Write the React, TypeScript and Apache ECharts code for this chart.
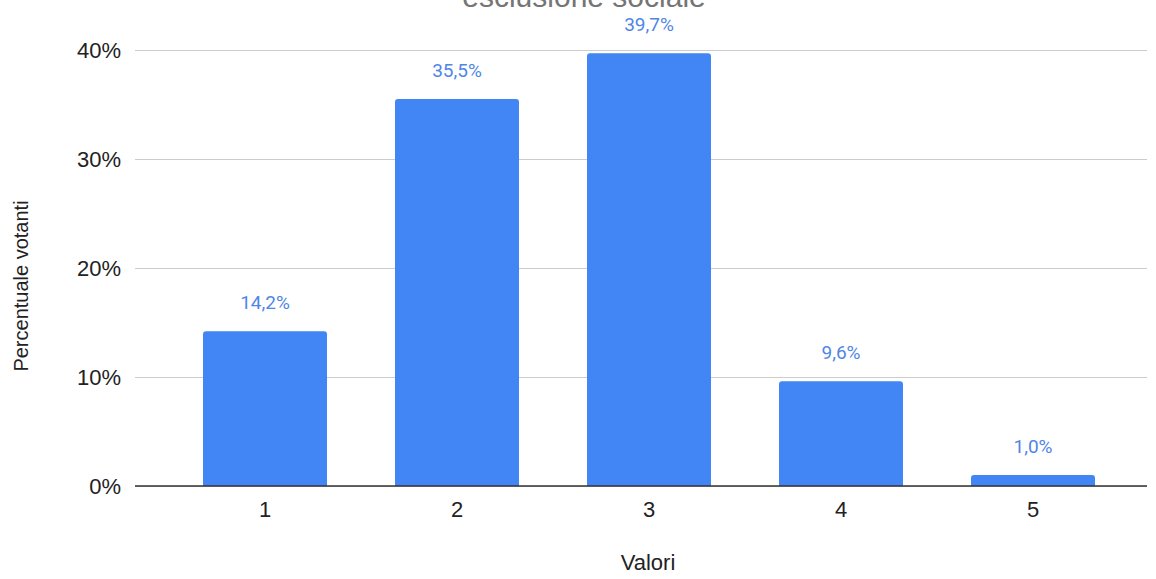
import React, { useEffect, useRef } from "react";
import * as echarts from "echarts";

const categories = ["1", "2", "3", "4", "5"];
const values = [14.2, 35.5, 39.7, 9.6, 1.0];
const yTicks = [0, 10, 20, 30, 40];
const titleText = "esclusione sociale";
const yName = "Percentuale votanti";
const xName = "Valori";

export default function App() {
  const ref = useRef<HTMLDivElement>(null);
  useEffect(() => {
    const chart = echarts.init(ref.current!, null, { renderer: "svg" });
    const font = "'Liberation Sans', Arial, sans-serif";
    const labelFont = "Roboto, Arial, sans-serif";
    chart.setOption({
      animation: false,
      backgroundColor: "#ffffff",
      textStyle: { fontFamily: font },
      grid: [
        { left: 135, right: 9, top: 50, height: 436 },
        { left: 169, right: 27, top: 50, height: 436 },
      ],
      xAxis: [
        {
          gridIndex: 0,
          type: "category",
          data: categories,
          axisLine: { show: false },
          axisTick: { show: false },
          axisLabel: { show: false },
        },
        {
          gridIndex: 1,
          type: "category",
          data: categories,
          axisLine: { show: false },
          axisTick: { show: false },
          axisLabel: { color: "#222222", fontSize: 22, margin: 12, fontFamily: font },
        },
      ],
      yAxis: [
        {
          gridIndex: 0,
          type: "value",
          min: yTicks[0],
          max: yTicks[yTicks.length - 1],
          interval: 10,
          axisLine: { show: false },
          axisTick: { show: false },
          splitLine: {
            lineStyle: { color: "#cccccc", width: 1 },
          },
          axisLabel: {
            color: "#222222",
            fontSize: 22,
            margin: 14,
            fontFamily: font,
            formatter: (v: number) => `${v}%`,
          },
        },
        {
          gridIndex: 1,
          type: "value",
          min: yTicks[0],
          max: yTicks[yTicks.length - 1],
          interval: 10,
          show: false,
          splitLine: { show: false },
        },
      ],
      graphic: [
        {
          type: "text",
          x: 584,
          y: 11,
          style: {
            text: titleText,
            fill: "#757575",
            fontSize: 30,
            fontFamily: font,
            textAlign: "center",
            textVerticalAlign: "bottom",
          },
        },
        {
          type: "line",
          shape: { x1: 135, y1: 486, x2: 1147, y2: 486 },
          style: { stroke: "#333333", lineWidth: 1.5 },
          z: 10,
        },
        {
          type: "text",
          x: 648,
          y: 562,
          style: {
            text: xName,
            fill: "#222222",
            fontSize: 22,
            fontFamily: font,
            textAlign: "center",
            textVerticalAlign: "middle",
          },
        },
        {
          type: "text",
          x: 21,
          y: 286,
          rotation: Math.PI / 2,
          style: {
            text: yName,
            fill: "#222222",
            fontSize: 20,
            fontFamily: font,
            textAlign: "center",
            textVerticalAlign: "middle",
          },
        },
      ],
      series: [
        {
          type: "bar",
          xAxisIndex: 1,
          yAxisIndex: 1,
          data: values,
          barWidth: 124,
          itemStyle: { color: "#4285f4", borderRadius: [3, 3, 0, 0] },
          label: {
            show: true,
            position: "top",
            distance: 19,
            color: "#4f86e6",
            fontSize: 19,
            fontFamily: labelFont,
            formatter: (p: any) => `${p.value.toFixed(1).replace(".", ",")}%`,
          },
        },
      ],
    });
    return () => chart.dispose();
  }, []);
  return (
    <div
      ref={ref}
      style={{ position: "fixed", left: 0, top: 0, width: 1156, height: 579 }}
    />
  );
}
